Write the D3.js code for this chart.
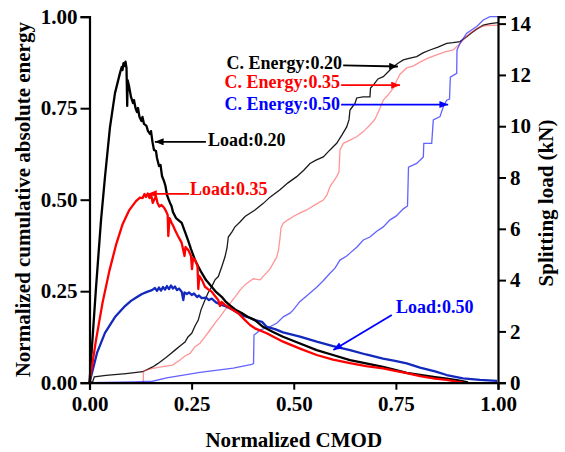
<!DOCTYPE html>
<html>
<head>
<meta charset="utf-8">
<script src="https://cdn.jsdelivr.net/npm/d3@7"></script>
<style>
  body { margin: 0; background: #fff; }
  svg { display: block; }
  text { font-family: "Liberation Serif", "Times New Roman", serif; font-weight: bold; }
</style>
</head>
<body>
<div id="chart"></div>
<script>
// Splitting load (kN) vs normalized CMOD, [cmod, kN]
const load020 = [[0,0],[0.0159,3.7],[0.0282,6.34],[0.0379,8.02],[0.0502,9.97],[0.0624,11.29],[0.0747,12.08],[0.0788,12.31],[0.0808,12.19],[0.0832,12.46],[0.0857,12.35],[0.0881,12.52],[0.0906,12.27],[0.0923,10.79],[0.0933,11.80],[0.0967,11.57],[0.1016,11.14],[0.1065,10.90],[0.1089,11.02],[0.1126,10.71],[0.1163,10.55],[0.1187,10.71],[0.1224,10.36],[0.1273,10.20],[0.1297,10.36],[0.1334,10.09],[0.1395,10.01],[0.1432,9.81],[0.1481,9.70],[0.1506,9.81],[0.1542,9.38],[0.1579,9.07],[0.1628,9.03],[0.1652,8.76],[0.1701,8.45],[0.1738,8.49],[0.1775,8.06],[0.1824,7.86],[0.1860,7.67],[0.1897,7.32],[0.1934,7.16],[0.1971,7.01],[0.2007,6.89],[0.2044,6.65],[0.2118,6.42],[0.2257,6.23],[0.2338,5.88],[0.2411,5.56],[0.2485,5.21],[0.2583,4.78],[0.2656,4.55],[0.2747,4.28],[0.2852,4.00],[0.2991,3.74],[0.3097,3.54],[0.3236,3.35],[0.3341,3.15],[0.3481,2.96],[0.3586,2.83],[0.3726,2.72],[0.3880,2.56],[0.4051,2.44],[0.4247,2.18],[0.4492,1.98],[0.4737,1.79],[0.5153,1.53],[0.5562,1.27],[0.5961,1.08],[0.6377,0.88],[0.6769,0.75],[0.7185,0.62],[0.7479,0.50],[0.7765,0.38],[0.8091,0.30],[0.8458,0.22],[0.8744,0.16],[0.9021,0.09],[0.9266,0.01]];

const load035 = [[0,0],[0.0159,1.66],[0.0323,3.15],[0.0485,4.35],[0.0649,5.37],[0.0813,6.19],[0.0974,6.73],[0.1138,7.08],[0.1236,7.22],[0.1302,7.20],[0.1346,7.36],[0.1383,7.24],[0.1425,7.38],[0.1469,7.20],[0.1506,7.36],[0.1547,7.01],[0.1591,7.16],[0.1628,7.26],[0.1665,7.01],[0.1709,6.87],[0.1763,6.93],[0.1831,6.81],[0.1873,6.69],[0.1914,6.54],[0.1929,5.72],[0.1958,6.42],[0.2012,6.23],[0.2051,6.11],[0.2093,5.95],[0.2166,5.72],[0.2257,5.45],[0.2326,4.94],[0.2350,5.29],[0.2419,5.17],[0.2485,4.94],[0.2509,4.43],[0.2534,4.86],[0.2583,4.78],[0.2644,4.55],[0.2663,3.65],[0.2688,4.16],[0.2754,4.00],[0.2827,3.74],[0.2901,3.65],[0.2991,3.55],[0.3072,3.38],[0.3153,3.22],[0.3195,2.99],[0.3231,3.15],[0.3317,3.03],[0.3398,2.95],[0.3513,2.83],[0.3643,2.71],[0.3807,2.44],[0.3929,2.25],[0.4051,2.12],[0.4338,1.93],[0.4737,1.60],[0.5153,1.33],[0.5562,1.08],[0.5961,0.90],[0.6377,0.76],[0.6769,0.65],[0.7185,0.56],[0.7479,0.46],[0.7765,0.37],[0.8091,0.26],[0.8458,0.16],[0.8744,0.11],[0.8989,0.04],[0.9143,0.01]];

const load050 = [[0,0],[0.0184,1.16],[0.0379,1.94],[0.0624,2.56],[0.0869,2.99],[0.1016,3.19],[0.1163,3.34],[0.1285,3.46],[0.1408,3.54],[0.1530,3.61],[0.1603,3.69],[0.1652,3.58],[0.1701,3.71],[0.1750,3.59],[0.1799,3.73],[0.1848,3.63],[0.1897,3.77],[0.1946,3.65],[0.1995,3.79],[0.2044,3.67],[0.2093,3.75],[0.2142,3.61],[0.2191,3.67],[0.2257,3.55],[0.2296,3.22],[0.2326,3.52],[0.2387,3.46],[0.2436,3.52],[0.2502,3.42],[0.2558,3.48],[0.2632,3.34],[0.2681,3.40],[0.2747,3.30],[0.2852,3.32],[0.2925,3.22],[0.2991,3.28],[0.3097,3.13],[0.3236,3.03],[0.3341,2.97],[0.3481,2.87],[0.3586,2.76],[0.3726,2.62],[0.3880,2.56],[0.4051,2.44],[0.4223,2.37],[0.4338,2.18],[0.4541,2.09],[0.4737,1.96],[0.5153,1.80],[0.5562,1.60],[0.5961,1.43],[0.6377,1.27],[0.6769,1.10],[0.7185,0.94],[0.7479,0.85],[0.7765,0.75],[0.8091,0.59],[0.8458,0.44],[0.8744,0.30],[0.9143,0.17],[0.9559,0.11],[0.9976,0.07]];

// Normalized cumulative absolute energy, [cmod, energy]
const energy020 = [[0,0.001],[0.0078,0.003],[0.0118,0.016],[0.0404,0.020],[0.0894,0.025],[0.1302,0.030],[0.1547,0.043],[0.1670,0.052],[0.1873,0.069],[0.1995,0.080],[0.2093,0.089],[0.2215,0.100],[0.2338,0.111],[0.2411,0.125],[0.2502,0.135],[0.2583,0.155],[0.2663,0.171],[0.2729,0.199],[0.2827,0.226],[0.2901,0.245],[0.2991,0.262],[0.3072,0.281],[0.3153,0.290],[0.3244,0.319],[0.3317,0.344],[0.3366,0.368],[0.3398,0.398],[0.3488,0.412],[0.3562,0.426],[0.3684,0.439],[0.3807,0.454],[0.4051,0.472],[0.4255,0.490],[0.4419,0.507],[0.4663,0.527],[0.4859,0.546],[0.5072,0.563],[0.5251,0.581],[0.5398,0.599],[0.5545,0.608],[0.5723,0.617],[0.5887,0.636],[0.6051,0.654],[0.6181,0.677],[0.6296,0.699],[0.6352,0.718],[0.6377,0.745],[0.6450,0.756],[0.6499,0.763],[0.6541,0.778],[0.6695,0.781],[0.6866,0.781],[0.6879,0.805],[0.6947,0.813],[0.7062,0.830],[0.7192,0.836],[0.7307,0.849],[0.7437,0.863],[0.7552,0.873],[0.7682,0.882],[0.7846,0.887],[0.8010,0.891],[0.8164,0.901],[0.8335,0.909],[0.8531,0.917],[0.8744,0.927],[0.8898,0.929],[0.9070,0.932],[0.9234,0.945],[0.9339,0.955],[0.9479,0.966],[0.9640,0.977],[0.9804,0.981],[1.0,0.984]];

const energy035 = [[0,0],[0.1317,0.001],[0.1322,0.032],[0.1547,0.039],[0.1792,0.044],[0.2037,0.048],[0.2215,0.062],[0.2338,0.073],[0.2460,0.080],[0.2583,0.098],[0.2705,0.108],[0.2827,0.125],[0.2950,0.144],[0.3072,0.163],[0.3195,0.180],[0.3317,0.199],[0.3439,0.217],[0.3562,0.234],[0.3684,0.253],[0.3831,0.270],[0.4010,0.284],[0.4174,0.281],[0.4419,0.311],[0.4583,0.343],[0.4627,0.363],[0.4663,0.395],[0.4688,0.423],[0.4744,0.436],[0.4859,0.445],[0.4989,0.454],[0.5153,0.464],[0.5317,0.472],[0.5520,0.486],[0.5723,0.499],[0.5814,0.513],[0.5887,0.536],[0.5961,0.548],[0.6051,0.563],[0.6108,0.576],[0.6132,0.636],[0.6213,0.654],[0.6377,0.663],[0.6541,0.672],[0.6703,0.686],[0.6866,0.704],[0.6989,0.720],[0.7111,0.750],[0.7192,0.772],[0.7307,0.786],[0.7437,0.805],[0.7528,0.827],[0.7601,0.843],[0.7765,0.860],[0.7919,0.865],[0.8091,0.876],[0.8286,0.887],[0.8482,0.895],[0.8703,0.904],[0.8906,0.909],[0.9070,0.927],[0.9217,0.945],[0.9315,0.955],[0.9437,0.964],[0.9559,0.972],[0.9755,0.976],[1.0,0.977]];

const energy050 = [[0,0],[0.1065,0.002],[0.1547,0.004],[0.1888,0.013],[0.2705,0.028],[0.3520,0.040],[0.3971,0.050],[0.4015,0.052],[0.4027,0.130],[0.4093,0.136],[0.4174,0.144],[0.4419,0.153],[0.4590,0.163],[0.4744,0.180],[0.4908,0.190],[0.4989,0.199],[0.5153,0.222],[0.5349,0.240],[0.5562,0.261],[0.5716,0.278],[0.5887,0.299],[0.6010,0.313],[0.6132,0.335],[0.6296,0.346],[0.6377,0.354],[0.6548,0.371],[0.6703,0.390],[0.6866,0.398],[0.7031,0.414],[0.7185,0.425],[0.7356,0.445],[0.7503,0.455],[0.7682,0.475],[0.7785,0.483],[0.7809,0.589],[0.8010,0.599],[0.8172,0.617],[0.8184,0.654],[0.8377,0.654],[0.8416,0.718],[0.8580,0.727],[0.8661,0.754],[0.8744,0.772],[0.8813,0.775],[0.8833,0.835],[0.8989,0.845],[0.8996,0.909],[0.9070,0.927],[0.9234,0.955],[0.9479,0.973],[0.9640,0.991],[0.9804,1.0],[1.0,1.0]];

const xTicks = [0, 0.25, 0.5, 0.75, 1];
const yLeftTicks = [0, 0.25, 0.5, 0.75, 1];
const yRightTicks = [0, 2, 4, 6, 8, 10, 12, 14];

const margin = {top: 16.7, right: 67, bottom: 69.3, left: 89.5},
    width = 565 - margin.left - margin.right,
    height = 452 - margin.top - margin.bottom;

const svg = d3.select("#chart").append("svg")
    .attr("width", 565)
    .attr("height", 452);

const g = svg.append("g")
    .attr("transform", `translate(${margin.left},${margin.top})`);

const x = d3.scaleLinear().domain([0, 1]).range([0, width]);
const yL = d3.scaleLinear().domain([0, 1]).range([height, 0]);
const yR = d3.scaleLinear().domain([0, 14.27]).range([height, 0]);

// arrow heads
const defs = svg.append("defs");
["#000000", "#ff0000", "#0000ff"].forEach((c, i) => {
    defs.append("marker")
        .attr("id", "arr" + i)
        .attr("viewBox", "0 0 10 8")
        .attr("refX", 10).attr("refY", 4)
        .attr("markerWidth", 11).attr("markerHeight", 7)
        .attr("markerUnits", "userSpaceOnUse")
        .attr("orient", "auto")
        .append("path")
        .attr("d", "M0,0 L10,4 L0,8 Z")
        .attr("fill", c);
});

const lineE = d3.line().x(d => x(d[0])).y(d => yL(d[1]));
const lineL = d3.line().x(d => x(d[0])).y(d => yR(d[1]));

// energy curves (thin)
const energySeries = [
    {data: energy020, color: "#1a1a1a", op: 1},
    {data: energy035, color: "#ff4040", op: 0.55},
    {data: energy050, color: "#2020ff", op: 0.7}
];
energySeries.forEach(s => {
    g.append("path")
        .datum(s.data)
        .attr("fill", "none")
        .attr("stroke", s.color)
        .attr("stroke-opacity", s.op)
        .attr("stroke-width", 1.3)
        .attr("d", lineE);
});

// load curves (thick)
const loadSeries = [
    {data: load050, color: "#1329bd"},
    {data: load020, color: "#000000"},
    {data: load035, color: "#ff0000"}
];
loadSeries.forEach(s => {
    g.append("path")
        .datum(s.data)
        .attr("fill", "none")
        .attr("stroke", s.color)
        .attr("stroke-width", 2.3)
        .attr("stroke-linejoin", "round")
        .attr("d", lineL);
});

// axes
const fmt = d3.format(".2f");
const xAx = g.append("g")
    .attr("transform", `translate(0,${height})`)
    .call(d3.axisBottom(x).tickValues(xTicks).tickFormat(fmt).tickSize(7).tickPadding(6));
const yAx = g.append("g")
    .call(d3.axisLeft(yL).tickValues(yLeftTicks).tickFormat(fmt).tickSize(9).tickPadding(3));
const yAx2 = g.append("g")
    .attr("transform", `translate(${width},0)`)
    .call(d3.axisRight(yR).tickValues(yRightTicks).tickSize(8).tickPadding(4));

[xAx, yAx, yAx2].forEach(a => {
    a.select(".domain").attr("stroke-width", 2.2);
    a.selectAll(".tick line").attr("stroke-width", 2);
    a.selectAll("text")
        .attr("font-family", "Liberation Serif, Times New Roman, serif")
        .attr("font-weight", "bold")
        .attr("font-size", 21)
        .attr("fill", "#000");
});

// axis titles
svg.append("text")
    .attr("x", margin.left + width / 2)
    .attr("y", 447)
    .attr("text-anchor", "middle")
    .attr("font-size", 21)
    .text("Normalized CMOD");

svg.append("text")
    .attr("transform", `translate(30,${margin.top + height / 2}) rotate(-90)`)
    .attr("text-anchor", "middle")
    .attr("font-size", 21)
    .text("Normalized cumulative absolute energy");

svg.append("text")
    .attr("transform", `translate(553,203) rotate(-90)`)
    .attr("text-anchor", "middle")
    .attr("font-size", 21)
    .text("Splitting load (kN)");

// annotations, positions in (cmod, normalized energy) units
const notes = [
    {text: "C. Energy:0.20", color: "#000000", m: 0, tx: 0.618, ty: 0.857, anchor: "end", a: [0.621, 0.867, 0.755, 0.864]},
    {text: "C. Energy:0.35", color: "#ff0000", m: 1, tx: 0.613, ty: 0.804, anchor: "end", a: [0.616, 0.813, 0.760, 0.813]},
    {text: "C. Energy:0.50", color: "#0000ff", m: 2, tx: 0.613, ty: 0.745, anchor: "end", a: [0.616, 0.760, 0.878, 0.760]},
    {text: "Load:0.20", color: "#000000", m: 0, tx: 0.290, ty: 0.647, anchor: "start", a: [0.285, 0.658, 0.160, 0.658]},
    {text: "Load:0.35", color: "#ff0000", m: 1, tx: 0.246, ty: 0.513, anchor: "start", a: [0.2436, 0.516, 0.1432, 0.516]},
    {text: "Load:0.50", color: "#0000ff", m: 2, tx: 0.750, ty: 0.190, anchor: "start", a: [0.740, 0.185, 0.597, 0.0893]}
];
notes.forEach(n => {
    g.append("line")
        .attr("x1", x(n.a[0])).attr("y1", yL(n.a[1]))
        .attr("x2", x(n.a[2])).attr("y2", yL(n.a[3]))
        .attr("stroke", n.color)
        .attr("stroke-width", 1.8)
        .attr("marker-end", `url(#arr${n.m})`);
    g.append("text")
        .attr("x", x(n.tx))
        .attr("y", yL(n.ty))
        .attr("text-anchor", n.anchor)
        .attr("font-size", 18)
        .attr("fill", n.color)
        .text(n.text);
});
</script>
</body>
</html>
